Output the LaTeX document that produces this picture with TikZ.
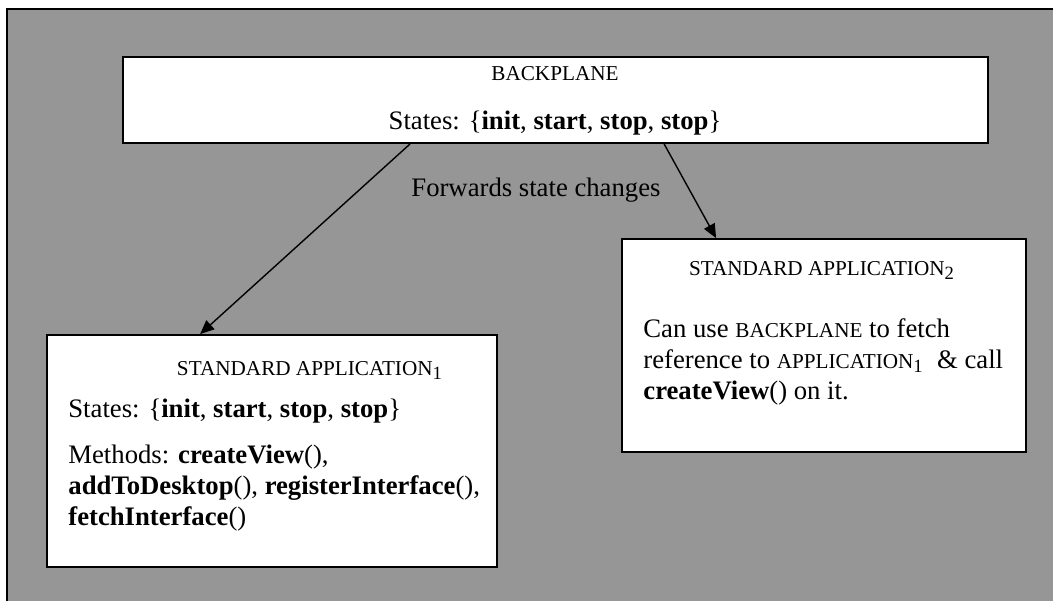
\documentclass[tikz,border=0pt]{standalone}
\usepackage{fontspec}
\setmainfont{Liberation Serif}
\usetikzlibrary{arrows.meta}

\definecolor{panelgray}{RGB}{150,150,150}
\newcommand{\smcaps}[1]{{\fontsize{10.6}{12}\selectfont #1}}

\tikzset{
    box/.style={draw, line width=0.9pt, fill=white, inner sep=0pt},
    txt/.style={inner sep=0pt, align=left, font=\fontsize{13.35}{15.5}\selectfont},
    flow/.style={-{Triangle[length=7pt,width=6pt]}, line width=0.7pt}
}

\begin{document}
\begin{tikzpicture}[x=0.5pt, y=-0.5pt]
    \useasboundingbox (0,0) rectangle (1053,601);

    % grey panel
    \fill[panelgray] (7,9) rectangle (1053,601);
    \draw[line width=1.4pt] (7,601) |- (1053,9);

    % boxes
    \node[box, minimum width=432.5pt, minimum height=43pt] (bp) at (555.5,100) {};
    \node[box, minimum width=225pt, minimum height=116pt] (app1) at (272,451) {};
    \node[box, minimum width=202pt, minimum height=106.5pt] (app2) at (824,345.5) {};

    % backplane
    \node[txt, anchor=base] (bptitle) at (555,80) {\smcaps{BACKPLANE}};
    \node[txt, anchor=base] (bpstates) at (555,129)
        {States: \{\textbf{init}, \textbf{start}, \textbf{stop}, \textbf{stop}\}};

    % application 1 (base = last line)
    \node[txt, anchor=base] (app1title) at (310,375)
        {\smcaps{STANDARD APPLICATION}\textsubscript{1}};
    \node[txt, anchor=base west] (app1body) at (68,525)
        {States: \{\textbf{init}, \textbf{start}, \textbf{stop}, \textbf{stop}\}\\[7.5pt]
         Methods: \textbf{createView}(),\\
         \textbf{addToDesktop}(), \textbf{registerInterface}(),\\
         \textbf{fetchInterface}()};

    % application 2
    \node[txt, anchor=base] (app2title) at (822,275)
        {\smcaps{STANDARD APPLICATION}\textsubscript{2}};
    \node[txt, anchor=base west] (app2body) at (643,399)
        {Can use \smcaps{BACKPLANE} to fetch\\
         reference to \smcaps{APPLICATION}\textsubscript{1}\ \ \& call\\
         \textbf{createView}() on it.};

    % forwarding
    \node[txt, anchor=base west] (fwd) at (411,196) {Forwards state changes};
    \draw[flow] ([xshift=144pt]bp.south west) -- ([xshift=77pt]app1.north west);
    \draw[flow] ([xshift=271pt]bp.south west) -- ([xshift=47.5pt]app2.north west);
\end{tikzpicture}
\end{document}
